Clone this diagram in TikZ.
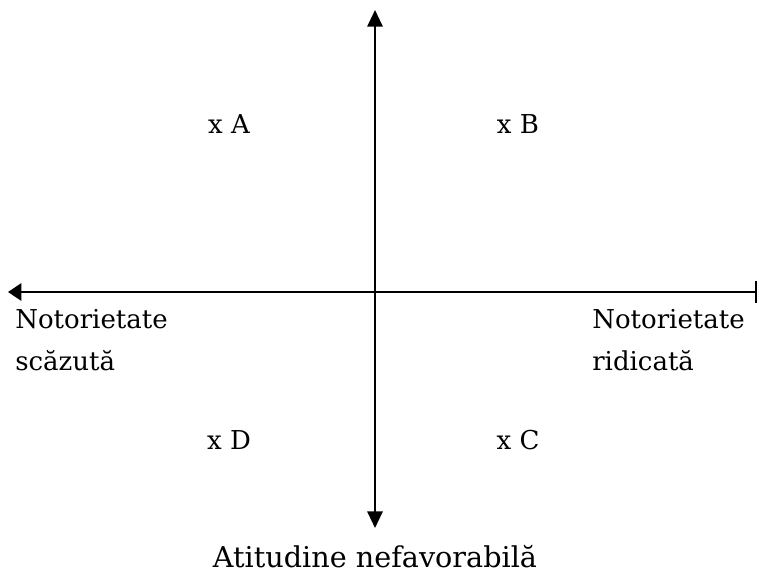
\documentclass[tikz,border=0pt]{standalone}
\usepackage{fontspec}
\setmainfont{DejaVu Serif}
\usetikzlibrary{arrows.meta}

\begin{document}
\begin{tikzpicture}[x=0.75pt,y=-0.75pt,
    axis/.style={line width=1.5pt},
    lbl/.style={inner sep=0pt,anchor=base west,font=\fontsize{19.5}{23}\selectfont},
    pt/.style={inner sep=0pt,anchor=base,font=\fontsize{19.5}{23}\selectfont}]
\useasboundingbox (0,0) rectangle (759,572);

% ends of the axes
\coordinate (top) at (375,10);
\coordinate (bot) at (375,528);
\coordinate (left) at (8,292);
\coordinate (right) at (757,292);

\draw[axis,{Triangle[length=12.5pt,width=11.5pt]}-{Triangle[length=12.5pt,width=11.5pt]}] (bot) -- (top);
\draw[axis,{Triangle[length=10pt,width=13pt]}-{Bar[width=17pt]}] (left) -- (right);

% points
\node[pt] (a) at (229,133) {x A};
\node[pt] (b) at (518,133) {x B};
\node[pt] (d) at (229,449) {x D};
\node[pt] (c) at (518,449) {x C};

% axis labels
\node[lbl] (lo1) at (15,328) {Notorietate};
\node[lbl] (lo2) at (15,370) {scăzută};
\node[lbl] (hi1) at (592,328) {Notorietate};
\node[lbl] (hi2) at (592,370) {ridicată};
\node[pt,font=\fontsize{21.5}{25}\selectfont] (neg) at (375,567) {Atitudine nefavorabilă};

\end{tikzpicture}
\end{document}
